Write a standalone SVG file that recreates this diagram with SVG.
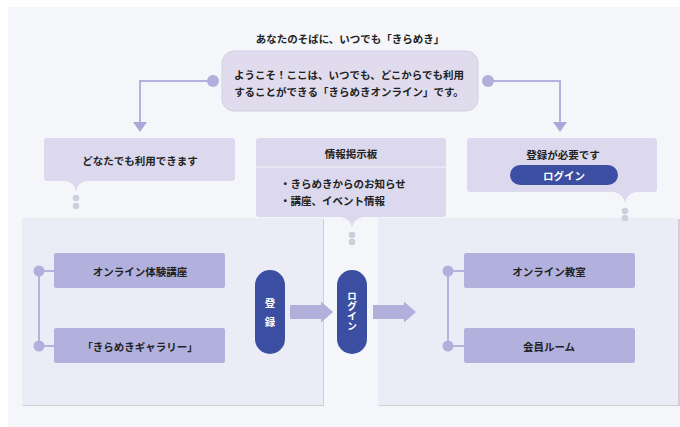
<svg xmlns="http://www.w3.org/2000/svg" width="680" height="427" viewBox="0 0 680 427">
<defs>
<style>
text{font-family:"Noto Sans CJK JP","Noto Sans",sans-serif;font-weight:bold;fill:#222;font-size:10.5px;text-anchor:middle;dominant-baseline:central}
.w{fill:#fff}
.v{font-size:10px;writing-mode:vertical-rl;text-orientation:upright}
.callout{fill:#dcd9ee}
.item{fill:#b2b1de}
.pill{fill:#3c4ea2}
.dot{fill:#b1b0dc}
.gdot{fill:#cfcfdb}
.ln{stroke:#b4b3df;stroke-width:2;fill:none}
.big{fill:#ececf6}
.arr{fill:#b1b0dc}
.head{fill:#a9a8d8}
</style>
</defs>
<rect x="0" y="0" width="680" height="427" fill="#fff"/>
<rect x="8" y="7" width="672" height="420" fill="#f5f6f9"/>

<g id="title"><text x="350" y="38">あなたのそばに、いつでも「きらめき」</text></g>

<g id="connectors">
<path class="ln" d="M213,81 H140 V123"/>
<path class="ln" d="M488,81 H560 V123"/>
<polygon class="head" points="133,122 147,122 140,132"/>
<polygon class="head" points="553,122 567,122 560,132"/>
<circle class="dot" cx="213" cy="81" r="6"/>
<circle class="dot" cx="488" cy="81" r="6"/>
</g>

<g id="welcome">
<rect x="222" y="51" width="256" height="60" rx="12" fill="#e0dcee" stroke="#d2cfe2" stroke-width="1"/>
<text x="349" y="74">ようこそ！ここは、いつでも、どこからでも利用</text>
<text x="349" y="91">することができる「きらめきオンライン」です。</text>
</g>

<g id="left-box">
<rect x="23" y="219" width="301" height="187" fill="#cfcfd8"/>
<rect x="22" y="218" width="301" height="187" class="big"/>
<path class="ln" d="M39,271 V346 M39,271 H54 M39,346 H54" stroke-width="1.5"/>
<circle class="dot" cx="39" cy="271" r="5.5"/>
<circle class="dot" cx="39" cy="346" r="5.5"/>
<g id="trial"><rect x="54" y="253" width="171" height="35" rx="2" class="item"/><text x="140" y="271">オンライン体験講座</text></g>
<g id="gallery"><rect x="54" y="328" width="171" height="35" rx="2" class="item"/><text x="140" y="346">「きらめきギャラリー」</text></g>
</g>

<g id="right-box">
<rect x="379" y="219" width="301" height="187" fill="#cfcfd8"/>
<rect x="378" y="218" width="300" height="187" class="big"/>
<path class="ln" d="M448,271 V346 M448,271 H464 M448,346 H464" stroke-width="1.5"/>
<circle class="dot" cx="448" cy="271" r="5.5"/>
<circle class="dot" cx="448" cy="346" r="5.5"/>
<g id="classroom"><rect x="464" y="253" width="171" height="35" rx="2" class="item"/><text x="549" y="271">オンライン教室</text></g>
<g id="member"><rect x="464" y="328" width="171" height="35" rx="2" class="item"/><text x="549" y="346">会員ルーム</text></g>
</g>

<g id="callout-left">
<path class="callout" d="M47,138 H232 Q235,138 235,141 V178 Q235,181 232,181 H86 Q77,183 76,192 Q75,183 66,181 H47 Q44,181 44,178 V141 Q44,138 47,138 Z"/>
<text x="140" y="160">どなたでも利用できます</text>
<circle class="gdot" cx="76" cy="198" r="3.3"/>
<circle class="gdot" cx="76" cy="206" r="3.3"/>
</g>

<g id="callout-board">
<path class="callout" d="M259,138 H443 Q446,138 446,141 V214 Q446,217 443,217 H363 Q353,219 352,228 Q351,219 341,217 H259 Q256,217 256,214 V141 Q256,138 259,138 Z"/>
<line x1="256" y1="167" x2="446" y2="167" stroke="#f3f2fa" stroke-width="1"/>
<text x="351" y="153">情報掲示板</text>
<text x="280" y="183" style="text-anchor:start">・きらめきからのお知らせ</text>
<text x="280" y="200" style="text-anchor:start">・講座、イベント情報</text>
<circle class="gdot" cx="352" cy="235" r="3.3"/>
<circle class="gdot" cx="352" cy="242" r="3.3"/>
</g>

<g id="callout-right">
<path class="callout" d="M470,138 H654 Q657,138 657,141 V189 Q657,192 654,192 H636 Q626,194 625,204 Q624,194 614,192 H470 Q467,192 467,189 V141 Q467,138 470,138 Z"/>
<text x="563" y="154">登録が必要です</text>
<rect x="510" y="165" width="108" height="20" rx="10" class="pill"/>
<text x="564" y="175" class="w">ログイン</text>
<circle class="gdot" cx="625" cy="211" r="3.3"/>
<circle class="gdot" cx="625" cy="218" r="3.3"/>
</g>

<g id="register">
<rect x="255" y="270" width="30" height="84" rx="15" class="pill"/>
<text x="270" y="302" class="w">登</text>
<text x="270" y="321" class="w">録</text>
</g>

<g id="login">
<rect x="337" y="270" width="30" height="84" rx="15" class="pill"/>
<text x="352" y="311" class="w v">ログイン</text>
</g>

<g id="flow-arrows">
<path class="arr" d="M290,305 H321 V301.5 L333,312 L321,322.5 V319 H290 Z"/>
<path class="arr" d="M373,305 H404 V301.5 L416,312 L404,322.5 V319 H373 Z"/>
</g>
</svg>
